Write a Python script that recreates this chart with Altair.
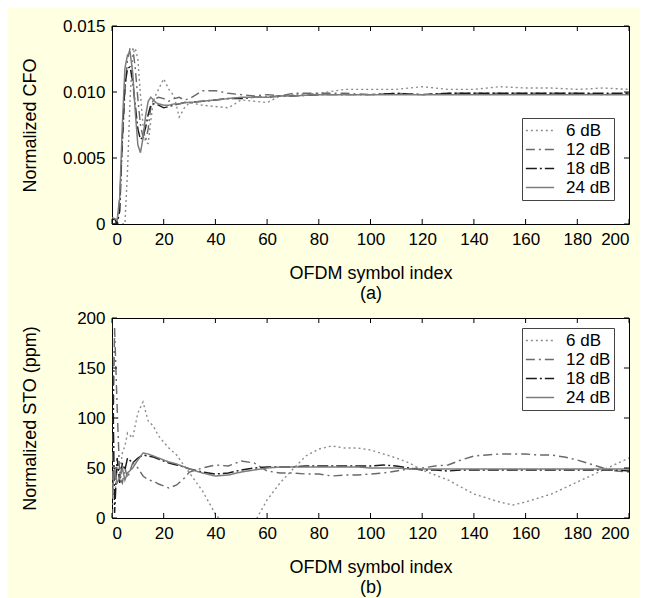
import altair as alt
import pandas as pd

SERIES = ["6 dB", "12 dB", "18 dB", "24 dB"]
COLORS = ["#8c8c8c", "#6a6a6a", "#1a1a1a", "#7c7c7c"]
DASHES = [[2, 3], [9, 4, 2, 4], [11, 3, 2, 3], [1, 0]]
WIDTHS = [1.4, 1.5, 2.3, 1.5]

X_TICKS = [0, 20, 40, 60, 80, 100, 120, 140, 160, 180, 200]
CFO_TICKS = [0, 0.005, 0.010, 0.015]
STO_TICKS = [0, 50, 100, 150, 200]

# ---- panel (a): normalized CFO ----
XA = [0, 1, 2, 3, 4, 5, 6, 7, 8, 9, 10, 11, 12, 13, 14, 15, 16, 17, 18, 20, 22, 24, 26, 28,
      30, 35, 40, 45, 50, 55, 60, 65, 70, 80, 90, 100, 110, 120, 130, 140, 150, 160, 170,
      180, 190, 200]
CFO_6 = [0, 0, 0, 0, 0, 0, 0.004, 0.0095, 0.0128, 0.0133, 0.0125, 0.0098, 0.0075, 0.0062,
         0.0061, 0.0078, 0.0093, 0.0098, 0.0102, 0.0110, 0.0102, 0.0097, 0.0081, 0.0088,
         0.0092, 0.0090, 0.0089, 0.0088, 0.0094, 0.0093, 0.0092, 0.0097, 0.0098, 0.0099,
         0.0102, 0.0102, 0.0102, 0.0104, 0.0102, 0.0102, 0.0104, 0.0103, 0.0103, 0.0102,
         0.0103, 0.0102]
CFO_12 = [0, 0, 0.0002, 0.002, 0.006, 0.010, 0.0125, 0.0133, 0.0134, 0.0118, 0.0095, 0.0075,
          0.0066, 0.0063, 0.0072, 0.0088, 0.0094, 0.0095, 0.0096, 0.0095, 0.0093, 0.0095,
          0.0096, 0.0094, 0.0095, 0.0101, 0.0101, 0.0099, 0.0098, 0.0097, 0.0098, 0.0097,
          0.0099, 0.0099, 0.0099, 0.0098, 0.0099, 0.0098, 0.0099, 0.0099, 0.0099, 0.0099,
          0.0099, 0.0099, 0.0098, 0.0099]
CFO_18 = [0.0003, 0.0004, 0, 0.001, 0.0065, 0.0105, 0.0118, 0.0119, 0.0108, 0.0090, 0.0072,
          0.0064, 0.0066, 0.0073, 0.0083, 0.0090, 0.0091, 0.0091, 0.0090, 0.0088, 0.0089,
          0.0090, 0.0091, 0.0092, 0.0092, 0.0093, 0.0094, 0.0095, 0.0095, 0.0096, 0.0096,
          0.0097, 0.0097, 0.0098, 0.0098, 0.0098, 0.0099, 0.0098, 0.0099, 0.0099, 0.0099,
          0.0099, 0.0099, 0.0099, 0.0099, 0.0099]
CFO_24 = [0.0005, 0.0004, 0.0003, 0.002, 0.0075, 0.0118, 0.0128, 0.0130, 0.0115, 0.0085,
          0.0060, 0.0054, 0.0065, 0.0082, 0.0093, 0.0096, 0.0094, 0.0092, 0.0091, 0.0090,
          0.0090, 0.0091, 0.0091, 0.0092, 0.0092, 0.0093, 0.0094, 0.0095, 0.0096, 0.0096,
          0.0096, 0.0097, 0.0097, 0.0098, 0.0098, 0.0098, 0.0098, 0.0098, 0.0098, 0.0098,
          0.0098, 0.0098, 0.0098, 0.0098, 0.0098, 0.0098]

# ---- panel (b): normalized STO (ppm) ----
XB = [0, 1, 2, 3, 4, 5, 6, 8, 10, 12, 14, 16, 18, 20, 22, 25, 28, 30, 35, 40, 45, 50, 55, 60,
      65, 70, 75, 80, 85, 90, 95, 100, 105, 110, 115, 120, 125, 130, 135, 140, 145, 150, 155,
      160, 165, 170, 175, 180, 185, 190, 195, 200]
STO_6 = [40, 20, 50, 45, 65, 72, 85, 80, 105, 116, 97, 92, 82, 76, 70, 63, 52, 45, 27, 4,
         -12, -18, -5, 18, 35, 49, 62, 69, 72, 70, 70, 68, 64, 60, 55, 48, 43, 38, 31, 24, 20,
         16, 13, 16, 20, 24, 30, 36, 42, 48, 54, 60]
STO_12 = [0, 190, 110, 40, 35, 50, 40, 55, 50, 42, 38, 37, 34, 32, 30, 33, 40, 46, 50, 53,
          52, 57, 55, 47, 45, 45, 44, 44, 42, 43, 43, 44, 45, 47, 49, 50, 52, 53, 58, 62, 63,
          64, 64, 64, 63, 63, 61, 58, 54, 50, 47, 46]
STO_18 = [200, 5, 60, 35, 55, 48, 60, 55, 60, 63, 62, 61, 59, 57, 55, 53, 51, 49, 46, 44,
          45, 48, 50, 51, 51, 51, 52, 52, 52, 52, 52, 52, 53, 52, 50, 48, 48, 47, 48, 48, 48,
          48, 48, 48, 48, 48, 48, 48, 48, 48, 48, 47]
STO_24 = [20, 50, 35, 40, 50, 38, 45, 50, 58, 65, 64, 62, 60, 58, 56, 54, 51, 49, 45, 42,
          43, 46, 48, 50, 51, 51, 51, 51, 51, 51, 51, 50, 50, 50, 49, 49, 49, 49, 49, 49, 49,
          49, 49, 49, 49, 49, 49, 49, 49, 49, 49, 49]

W, HA, HB = 517, 198, 200
FONT = "Liberation Sans"


def long_df(xs, series_values):
    rows = []
    for name, vals in zip(SERIES, series_values):
        for x, v in zip(xs, vals):
            rows.append({"x": x, "v": v, "series": name})
    return pd.DataFrame(rows)


def legend(lx, ly):
    return alt.Legend(title=None, orient="none", legendX=lx, legendY=ly,
                      symbolType="stroke", symbolSize=800, clipHeight=19,
                      labelFontSize=17, labelFont=FONT, labelColor="black",
                      strokeColor="#444", fillColor="white", padding=3, rowPadding=0,
                      labelOffset=11)


def panel(df, ydomain, yticks, h, ytitle, xtitle, fmt, lx, ly):
    xs = alt.Scale(domain=[0, 200], nice=False, zero=False)
    ys = alt.Scale(domain=ydomain, nice=False, zero=False)
    lg = legend(lx, ly)
    lines = alt.Chart(df).mark_line(clip=True).encode(
        x=alt.X("x:Q", scale=xs, axis=alt.Axis(values=X_TICKS, title=xtitle, titlePadding=17,
                                               titleLineHeight=20, labelPadding=7)),
        y=alt.Y("v:Q", scale=ys, axis=alt.Axis(values=yticks, title=ytitle, labelExpr=fmt,
                                               titleX=-73, titleY=h / 2, labelPadding=7)),
        color=alt.Color("series:N", sort=SERIES,
                        scale=alt.Scale(domain=SERIES, range=COLORS), legend=lg),
        strokeDash=alt.StrokeDash("series:N", sort=SERIES,
                                  scale=alt.Scale(domain=SERIES, range=DASHES), legend=lg),
        strokeWidth=alt.StrokeWidth("series:N", sort=SERIES,
                                    scale=alt.Scale(domain=SERIES, range=WIDTHS), legend=lg),
    )
    xt = pd.DataFrame({"t": X_TICKS})
    yt = pd.DataFrame({"t": yticks})
    tick = dict(color="black", strokeWidth=1)
    top = alt.Chart(xt).mark_rule(**tick).encode(
        x=alt.X("t:Q", scale=xs), y=alt.value(0), y2=alt.value(5))
    bot = alt.Chart(xt).mark_rule(**tick).encode(
        x=alt.X("t:Q", scale=xs), y=alt.value(h - 5), y2=alt.value(h))
    left = alt.Chart(yt).mark_rule(**tick).encode(
        y=alt.Y("t:Q", scale=ys), x=alt.value(0), x2=alt.value(5))
    right = alt.Chart(yt).mark_rule(**tick).encode(
        y=alt.Y("t:Q", scale=ys), x=alt.value(W - 5), x2=alt.value(W))
    return alt.layer(lines, top, bot, left, right).properties(width=W, height=h)


dfa = long_df(XA, [CFO_6, CFO_12, CFO_18, CFO_24])
dfb = long_df(XB, [STO_6, STO_12, STO_18, STO_24])

pa = panel(dfa, [0, 0.015], CFO_TICKS, HA, "Normalized CFO",
           ["OFDM symbol index", "(a)"],
           "datum.value == 0 ? '0' : format(datum.value, '.3f')", 410, 92)
pb = panel(dfb, [0, 200], STO_TICKS, HB, "Normalized STO (ppm)",
           ["OFDM symbol index", "(b)"], "format(datum.value, 'd')", 410, 10)

chart = alt.vconcat(pa, pb, spacing=5).resolve_scale(
    x="independent", y="independent", color="independent",
    strokeDash="independent", strokeWidth="independent"
).resolve_legend(
    color="independent", strokeDash="independent", strokeWidth="independent"
).properties(
    background="#FFFFE2",
    padding={"top": 8, "left": 12, "right": 10, "bottom": 5},
).configure_view(
    stroke="black", strokeWidth=1, fill="white"
).configure_axis(
    labelFont=FONT, titleFont=FONT, labelFontSize=17, titleFontSize=18,
    titleFontWeight="normal", labelColor="black", titleColor="black",
    domain=False, ticks=False, grid=False
)

chart.save("out.html", embed_options={"renderer": "svg", "actions": False})
